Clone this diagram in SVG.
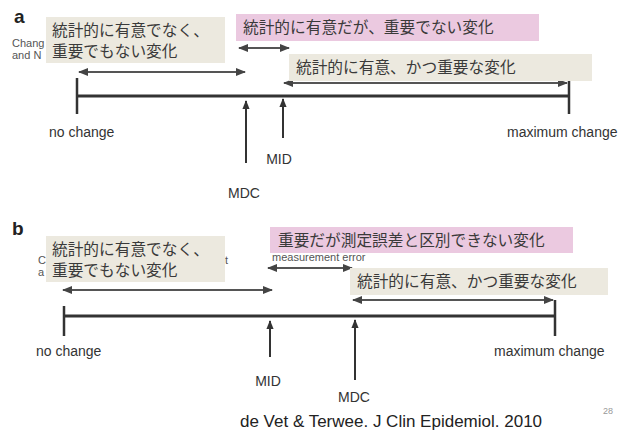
<svg xmlns="http://www.w3.org/2000/svg" width="632" height="430" viewBox="0 0 632 430">
<defs>
<style>
.lbl{font-family:"Liberation Sans",Arial,sans-serif;font-size:14px;fill:#333}
.small{font-family:"Liberation Sans",Arial,sans-serif;font-size:11px;fill:#555}
.pl{font-family:"Liberation Sans",Arial,sans-serif;font-size:19px;font-weight:bold;fill:#222}
.jp{font-family:"Noto Sans CJK JP","Noto Sans",sans-serif;font-size:15.7px;fill:#3a3a3a}
.beige{fill:#ece9df}
.pink{fill:#ebc9e0}
.axis{stroke:#333;stroke-width:3;fill:none}
.tick{stroke:#333;stroke-width:2.5;fill:none}
.dbl{stroke:#555;stroke-width:2;fill:none;marker-start:url(#ah);marker-end:url(#ah)}
.up{stroke:#333;stroke-width:2;fill:none;marker-end:url(#ah2)}
</style>
<marker id="ah" viewBox="0 0 10 8" refX="9" refY="4" markerWidth="5" markerHeight="4" orient="auto-start-reverse" markerUnits="strokeWidth"><path d="M0,0 L10,4 L0,8 Z" fill="#444"/></marker>
<marker id="ah2" viewBox="0 0 10 8" refX="9" refY="4" markerWidth="4.5" markerHeight="3.6" orient="auto" markerUnits="strokeWidth"><path d="M0,0 L10,4 L0,8 Z" fill="#333"/></marker>
</defs>

<g id="panel-a">
<text class="pl" x="14" y="23">a</text>
<text class="small" x="12" y="47">Chang</text>
<text class="small" x="12" y="59">and N</text>
</g>

<g id="connectors-a">
<line class="dbl" x1="79" y1="72" x2="245" y2="72"/>
<line class="dbl" x1="239" y1="48" x2="289" y2="48"/>
<line class="dbl" x1="284" y1="83" x2="567" y2="83"/>
<line class="axis" x1="77" y1="96" x2="570" y2="96"/>
<line class="tick" x1="77" y1="78" x2="77" y2="114"/>
<line class="tick" x1="569" y1="80" x2="569" y2="114"/>
<line class="up" x1="246" y1="163" x2="246" y2="101"/>
<line class="up" x1="283" y1="138" x2="283" y2="99"/>
</g>

<g id="box-a1"><rect class="beige" x="46" y="17" width="179" height="46"/>
<text class="jp" x="52" y="35.5">統計的に有意でなく、</text>
<text class="jp" x="52" y="56.5">重要でもない変化</text></g>
<g id="box-a2"><rect class="pink" x="236" y="14" width="303" height="27"/>
<text class="jp" x="243" y="33">統計的に有意だが、重要でない変化</text></g>
<g id="box-a3"><rect class="beige" x="289" y="54" width="303" height="27"/>
<text class="jp" x="296" y="73">統計的に有意、かつ重要な変化</text></g>

<g id="labels-a">
<text class="lbl" x="49" y="137">no change</text>
<text class="lbl" x="507" y="137">maximum change</text>
<text class="lbl" x="279" y="164" text-anchor="middle">MID</text>
<text class="lbl" x="244" y="198" text-anchor="middle">MDC</text>
</g>

<g id="panel-b">
<text class="pl" x="12" y="235">b</text>
<text class="small" x="38" y="264">C</text>
<text class="small" x="38" y="276">a</text>
<text class="small" x="225" y="264">t</text>
<text class="small" x="272" y="261">measurement error</text>
</g>

<g id="connectors-b">
<line class="dbl" x1="63" y1="290" x2="272" y2="290"/>
<line class="dbl" x1="268" y1="268" x2="352" y2="268"/>
<line class="dbl" x1="353" y1="300" x2="553" y2="300"/>
<line class="axis" x1="64" y1="316" x2="556" y2="316"/>
<line class="tick" x1="64" y1="306" x2="64" y2="336"/>
<line class="tick" x1="555" y1="300" x2="555" y2="336"/>
<line class="up" x1="270" y1="357" x2="270" y2="321"/>
<line class="up" x1="355" y1="380" x2="355" y2="320"/>
</g>

<g id="box-b1"><rect class="beige" x="46" y="236" width="179" height="46"/>
<text class="jp" x="52" y="254.5">統計的に有意でなく、</text>
<text class="jp" x="52" y="275.5">重要でもない変化</text></g>
<g id="box-b2"><rect class="pink" x="270" y="227" width="303" height="26"/>
<text class="jp" x="278" y="246">重要だが測定誤差と区別できない変化</text></g>
<g id="box-b3"><rect class="beige" x="350" y="268" width="258" height="27"/>
<text class="jp" x="357" y="287">統計的に有意、かつ重要な変化</text></g>

<g id="labels-b">
<text class="lbl" x="36" y="356">no change</text>
<text class="lbl" x="494" y="356">maximum change</text>
<text class="lbl" x="268" y="386" text-anchor="middle">MID</text>
<text class="lbl" x="354" y="402" text-anchor="middle">MDC</text>
<text x="391" y="427" text-anchor="middle" style="font-family:'Liberation Sans',Arial,sans-serif;font-size:17px;fill:#222">de Vet &amp; Terwee. J Clin Epidemiol. 2010</text>
<text x="608" y="414" text-anchor="middle" style="font-family:'Liberation Sans',Arial,sans-serif;font-size:9px;fill:#999">28</text>
</g>
</svg>
